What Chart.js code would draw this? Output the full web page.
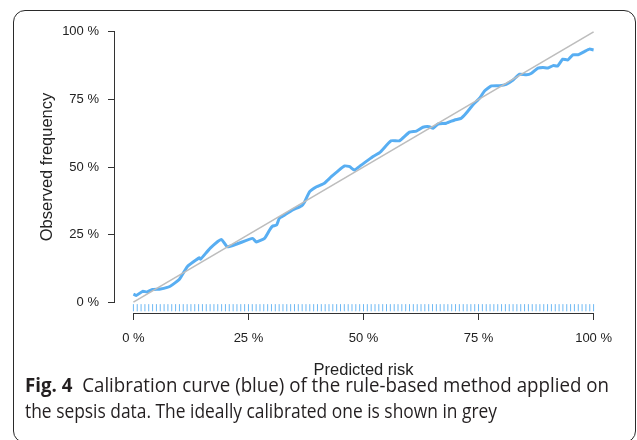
<!DOCTYPE html>
<html>
<head>
<meta charset="utf-8">
<script src="https://cdn.jsdelivr.net/npm/chart.js@4.4.0/dist/chart.umd.min.js"></script>
<style>
  body { margin: 0; background: #fff; width: 637px; height: 440px; overflow: hidden; position: relative; }
  .frame { position: absolute; left: 13px; top: 10px; width: 623px; height: 433px; box-sizing: border-box;
           border: 1.5px solid #2a2a2a; border-radius: 12px; }
  #chart { position: absolute; left: 0; top: 0; }
  .caption { position: absolute; left: 25px; top: 372px; font-family: "Open Sans", sans-serif; font-size: 20px;
             line-height: 26px; color: #231f20; white-space: nowrap; }
  .caption span.line { display: inline-block; transform-origin: left center; }
  .caption b { font-weight: 700; }
</style>
</head>
<body>
<div class="frame"></div>
<canvas id="chart" width="637" height="380"></canvas>
<div class="caption">
  <span class="line" data-w="584"><b>Fig. 4</b>&nbsp; Calibration curve (blue) of the rule-based method applied on</span><br>
  <span class="line" data-w="472">the sepsis data. The ideally calibrated one is shown in grey</span>
</div>
<script>
// calibration curve (percent)
const predictedRisk = [0, 0.65, 2.0, 3.0, 4.1, 5.9, 8.0, 10.0, 11.7, 14.3, 14.6, 16.7, 19.1, 20.4, 22.6, 25.9,
  26.7, 28.5, 29.6, 30.2, 31.1, 31.7, 32.8, 34.6, 36.5, 37.2, 38.3, 39.8, 41.5, 43.0, 44.3, 45.9, 47.0, 48.0,
  49.5, 52.0, 53.5, 56.0, 57.8, 60.0, 61.5, 62.9, 64.3, 65.1, 66.2, 68.0, 69.8, 71.2, 72.3, 73.8, 75.2, 76.3,
  77.8, 79.6, 81.0, 82.5, 83.9, 85.4, 86.5, 87.9, 89.0, 90.1, 91.2, 92.2, 93.3, 94.4, 95.5, 96.6, 98.0, 99.1, 100];
const observedFreq = [3.0, 2.5, 4.0, 3.8, 4.7, 4.9, 5.9, 8.5, 13.1, 16.4, 15.9, 20.0, 23.2, 20.5, 21.6, 23.6,
  22.3, 23.6, 26.7, 28.1, 28.5, 31.0, 32.2, 34.1, 35.6, 37.1, 40.9, 42.7, 44.0, 46.4, 48.3, 50.4, 50.1, 48.9,
  50.7, 53.8, 55.3, 59.7, 59.7, 62.9, 63.3, 64.7, 64.9, 64.3, 65.9, 66.2, 67.4, 68.0, 69.9, 73.0, 75.4, 78.1,
  80.0, 80.1, 80.6, 82.2, 84.3, 84.1, 84.7, 86.6, 86.8, 86.6, 87.5, 87.4, 89.9, 89.6, 91.5, 91.5, 92.7, 93.6, 93.3];
const idealX = [0, 100];
const idealY = [0, 100];
// rug of predicted risks along the x axis
const rugPositions = [
  0, 0.83, 1.67, 2.5, 3.33, 4.17, 5, 5.83, 6.67, 7.5, 8.33, 9.17,
  10, 10.83, 11.67, 12.5, 13.33, 14.17, 15, 15.83, 16.67, 17.5, 18.33, 19.17,
  20, 20.83, 21.67, 22.5, 23.33, 24.17, 25, 25.83, 26.67, 27.5, 28.33, 29.17,
  30, 30.83, 31.67, 32.5, 33.33, 34.17, 35, 35.83, 36.67, 37.5, 38.33, 39.17,
  40, 40.83, 41.67, 42.5, 43.33, 44.17, 45, 45.83, 46.67, 47.5, 48.33, 49.17,
  50, 50.83, 51.67, 52.5, 53.33, 54.17, 55, 55.83, 56.67, 57.5, 58.33, 59.17,
  60, 60.83, 61.67, 62.5, 63.33, 64.17, 65, 65.83, 66.67, 67.5, 68.33, 69.17,
  70, 70.83, 71.67, 72.5, 73.33, 74.17, 75, 75.83, 76.67, 77.5, 78.33, 79.17,
  80, 80.83, 81.67, 82.5, 83.33, 84.17, 85, 85.83, 86.67, 87.5, 88.33, 89.17,
  90, 90.83, 91.67, 92.5, 93.33, 94.17, 95, 95.83, 96.67, 97.5, 98.33, 99.17, 100];
const tickValues = [0, 25, 50, 75, 100];

const axisColor = '#333';
const textColor = '#222';

// R style axes: the line only runs from the first to the last tick
const rAxes = {
  id: 'rAxes',
  afterDraw(chart) {
    const { ctx, chartArea, scales } = chart;
    const x0 = scales.x.getPixelForValue(tickValues[0]);
    const x1 = scales.x.getPixelForValue(tickValues[tickValues.length - 1]);
    const y0 = scales.y.getPixelForValue(tickValues[0]);
    const y1 = scales.y.getPixelForValue(tickValues[tickValues.length - 1]);
    ctx.save();
    ctx.strokeStyle = axisColor;
    ctx.lineWidth = 1;
    ctx.beginPath();
    ctx.moveTo(x0, Math.round(chartArea.bottom) + 0.5);
    ctx.lineTo(x1, Math.round(chartArea.bottom) + 0.5);
    ctx.moveTo(Math.round(chartArea.left) - 0.5, y0);
    ctx.lineTo(Math.round(chartArea.left) - 0.5, y1);
    ctx.stroke();
    ctx.restore();
  }
};

function rScale(titleText, titlePad, tickPad, fit) {
  return {
    type: 'linear',
    min: -4,
    max: 104,
    afterBuildTicks: s => { s.ticks = tickValues.map(v => ({ value: v })); },
    afterFit: fit,
    ticks: {
      callback: v => v + ' %',
      color: textColor,
      font: { family: '"Liberation Sans", Arial, sans-serif', size: 13 },
      padding: tickPad,
      autoSkip: false,
      maxRotation: 0
    },
    grid: { drawOnChartArea: false, drawTicks: true, tickLength: 7, color: axisColor, tickColor: axisColor },
    border: { display: false },
    title: {
      display: true,
      text: titleText,
      color: textColor,
      font: { family: '"Liberation Sans", Arial, sans-serif', size: 16.5 },
      padding: titlePad
    }
  };
}

new Chart(document.getElementById('chart'), {
  type: 'scatter',
  data: {
    datasets: [
      {
        label: 'ideal',
        data: idealX.map((x, i) => ({ x: x, y: idealY[i] })),
        showLine: true,
        borderColor: '#bdbdbd',
        borderWidth: 1.6,
        pointRadius: 0,
        order: 0
      },
      {
        label: 'calibration',
        data: predictedRisk.map((x, i) => ({ x: x, y: observedFreq[i] })),
        showLine: true,
        borderColor: '#58aef2',
        borderWidth: 3,
        pointRadius: 0,
        tension: 0.15,
        order: 1
      },
      {
        label: 'rug',
        data: rugPositions.map(x => ({ x: x, y: -2.05 })),
        showLine: false,
        pointStyle: 'line',
        rotation: 90,
        pointRadius: 3.6,
        borderColor: '#6db8f3',
        borderWidth: 1,
        order: 2
      }
    ]
  },
  options: {
    responsive: false,
    animation: false,
    layout: { padding: { left: 0, right: 25, top: 21, bottom: 0 } },
    plugins: { legend: { display: false }, tooltip: { enabled: false } },
    scales: {
      x: rScale('Predicted risk', { top: 0, bottom: 0 }, 11, s => { s.height = 67; }),
      y: rScale('Observed frequency', { top: 38, bottom: 0 }, 9, s => { s.width = 115; })
    }
  },
  plugins: [rAxes]
});

// squeeze caption lines to the width they have in the figure
document.querySelectorAll('.caption .line').forEach(el => {
  const w = el.getBoundingClientRect().width;
  const target = +el.dataset.w;
  el.style.transform = 'scaleX(' + (target / w) + ')';
});
</script>
</body>
</html>
